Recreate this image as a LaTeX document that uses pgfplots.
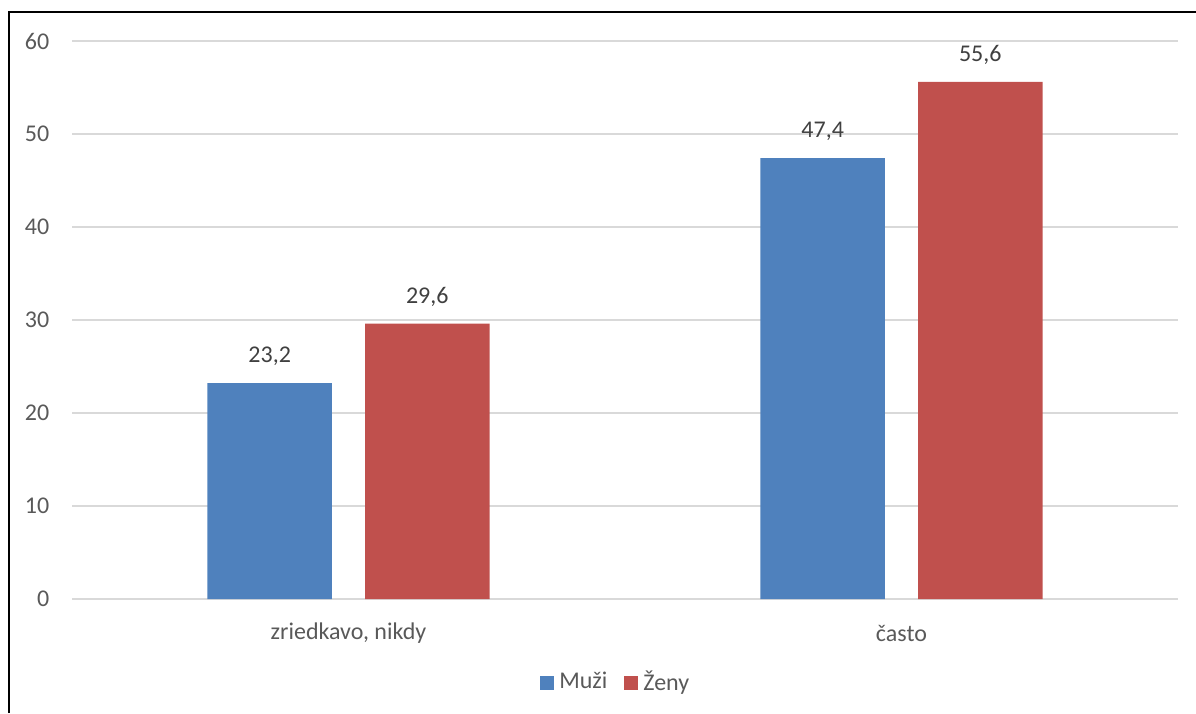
\documentclass[border=0pt]{standalone}
\usepackage{fontspec}
\setmainfont{Carlito}
\usepackage{pgfplots}
\pgfplotsset{compat=1.18}
\definecolor{cblue}{HTML}{4F81BD}
\definecolor{cred}{HTML}{C0504D}
\definecolor{cgrid}{HTML}{D9D9D9}
\definecolor{ctext}{HTML}{595959}
\definecolor{clab}{HTML}{404040}
\newcommand\f{\fontsize{6.83pt}{8.2pt}\selectfont}
\begin{document}
\begin{tikzpicture}
\useasboundingbox (0,0) rectangle (11.96,7.13);
\draw[line width=0.57pt] (0.09,0) -- (0.09,7.01) -- (11.96,7.01);
\begin{axis}[
  at={(0.72cm,1.14cm)}, anchor=south west,
  scale only axis,
  width=11.06cm, height=5.58cm,
  xmin=-0.5, xmax=1.5,
  ymin=0, ymax=60,
  ytick={0,10,20,30,40,50,60},
  xtick={0,1},
  xticklabels={{zriedkavo, nikdy}, často},
  axis line style={draw=none},
  major tick length=0pt,
  ymajorgrids,
  grid style={cgrid, line width=0.5pt},
  /pgf/number format/assume math mode=true,
  /pgf/number format/use comma,
  font=\f,
  ticklabel style={font=\f, text=ctext},
  yticklabel style={anchor=east, inner sep=0pt, xshift=-0.22cm},
  xticklabel style={anchor=center, inner sep=0pt, yshift=-0.34cm},
  ybar, bar width=0.225,
  nodes near coords,
  nodes near coords style={font=\f, text=clab, anchor=center, yshift=0.27cm, /pgf/number format/fixed, /pgf/number format/precision=1, /pgf/number format/fixed zerofill, /pgf/number format/use comma},
  legend columns=2,
  legend style={at={(0.493,-0.1505)}, anchor=center, draw=none, fill=none, font=\f, text=ctext,
    /tikz/every even column/.append style={column sep=0.12cm},
    inner sep=0pt, row sep=0pt,
    nodes={inner xsep=0.05cm}},
  legend cell align=left,
  legend image code/.code={\fill[#1] (0cm,-0.07cm) rectangle (0.14cm,0.07cm);},
]
\addplot[fill=cblue, draw=none, bar shift=-0.1425] coordinates {(0,23.2) (1,47.4)};
\addplot[fill=cred, draw=none, bar shift=0.1425] coordinates {(0,29.6) (1,55.6)};
\legend{Muži, Ženy}
\end{axis}
\end{tikzpicture}
\end{document}
